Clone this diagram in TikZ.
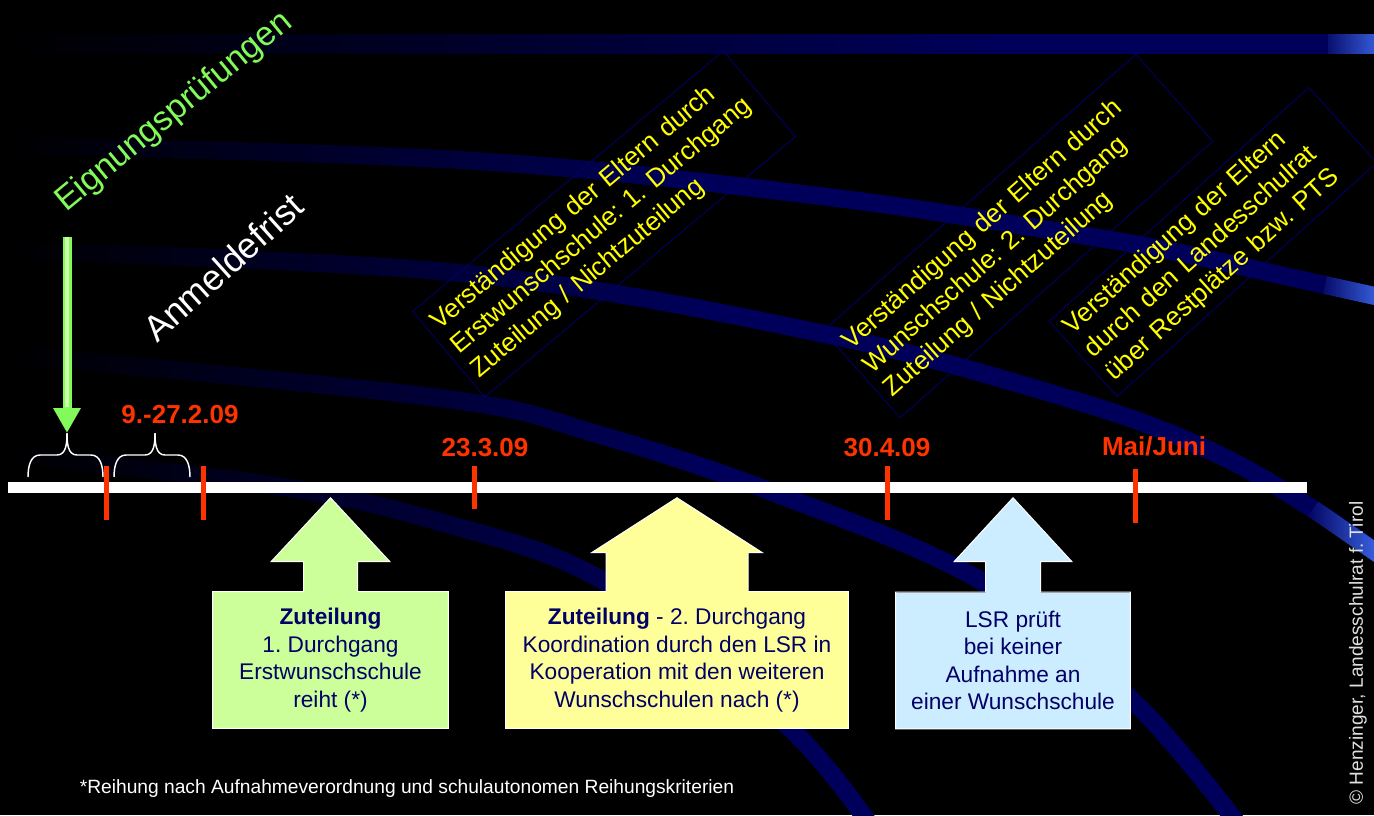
\documentclass[tikz,border=0pt]{standalone}
\usepackage{fontspec}
\setmainfont{Liberation Sans}
\usepackage{tikz}
\definecolor{bandnavy}{RGB}{0,0,90}
\definecolor{bandglow}{RGB}{70,120,255}
\definecolor{framenavy}{RGB}{0,0,100}
\definecolor{datered}{RGB}{255,51,0}
\definecolor{eigngreen}{RGB}{130,250,90}
\definecolor{eignlight}{RGB}{205,255,170}
\definecolor{hinweisgelb}{RGB}{255,255,0}
\definecolor{boxtext}{RGB}{0,0,102}
\definecolor{zutgreen}{RGB}{204,255,153}
\definecolor{zutyellow}{RGB}{255,255,153}
\definecolor{zutblue}{RGB}{204,236,255}
\usetikzlibrary{arrows.meta, calc, fadings}
\tikzfading[name=darkfade, left color=transparent!0, right color=transparent!100]
\tikzfading[name=glowfade, left color=transparent!100, right color=transparent!0]
\tikzstyle{band} = [bandnavy, line width=13.5pt]
\tikzstyle{glow} = [bandglow, line width=13.5pt, path fading=glowfade]
\tikzstyle{hinweis} = [rectangle, draw=framenavy, line width=0.7pt, text=hinweisgelb, align=left, font=\fontsize{19.5}{23.5}\selectfont, inner xsep=6pt]
\tikzstyle{schraeg} = [inner sep=0pt, anchor=base west]
\tikzstyle{datum} = [text=datered, anchor=base, font=\bfseries\fontsize{19.5}{23}\selectfont]
\tikzstyle{tick} = [datered, line width=3.75pt]
\tikzstyle{klammer} = [white, line width=1.1pt]
\tikzstyle{eignpfeil} = [eigngreen, line width=6.75pt, -{Triangle[width=19.5pt, length=18.75pt]}]
\tikzstyle{zuteilung} = [rectangle, text=boxtext, align=center, minimum height=102pt, font=\fontsize{17}{20.6}\selectfont]
\tikzstyle{umriss} = [white, line width=0.75pt]
\newcommand{\zutpfeil}[6]{%
  \fill[#2] ($(#1.north)+(-#3,1)$) -- ($(#1.north)+(-#3,-#5)$) -- ($(#1.north)+(-#4,-#5)$) -- ($(#1.north)+(0,-#6)$) -- ($(#1.north)+(#4,-#5)$) -- ($(#1.north)+(#3,-#5)$) -- ($(#1.north)+(#3,1)$) -- cycle;
  \draw[umriss] (#1.north west) -- ($(#1.north)+(-#3,0)$) -- ($(#1.north)+(-#3,-#5)$) -- ($(#1.north)+(-#4,-#5)$) -- ($(#1.north)+(0,-#6)$) -- ($(#1.north)+(#4,-#5)$) -- ($(#1.north)+(#3,-#5)$) -- ($(#1.north)+(#3,0)$) -- (#1.north east) -- (#1.south east) -- (#1.south west) -- cycle;
}

\begin{document}
\frenchspacing
\hyphenpenalty=10000
\begin{tikzpicture}[x=0.75pt, y=-0.75pt]
        \useasboundingbox (0,0) rectangle (1374,815);
        \fill[black] (0,0) rectangle (1374,815);

        \draw [band, line width=15pt] (-10,44) -- (1384,44);
        \draw [band] plot[smooth, tension=0.6] coordinates {(-10,145) (460,160) (820,196) (1080,235) (1180,253) (1280,275) (1325,285) (1384,298)};
        \draw [band] plot[smooth, tension=0.6] coordinates {(-10,250) (460,273) (820,333) (1080,402) (1213,452) (1313,509) (1384,558)};
        \draw [band] plot[smooth, tension=0.6] coordinates {(-10,353) (440,398) (600,435) (780,495) (983,582) (1137,705) (1250,840)};
        \draw [band] plot[smooth, tension=0.6] coordinates {(-10,452) (270,485) (440,522) (607,583) (790,728) (880,840)};
        \fill [black, path fading=darkfade] (-1,20) rectangle (1000,70);
        \fill [black, path fading=darkfade] (-1,70) rectangle (700,815);
        \draw [glow, line width=15pt] (1328,44) -- (1384,44);
        \draw [glow] (1325,285) -- (1384,298);
        \draw [glow] (1313,509) -- (1384,558);

        \node (hinweis1) [hinweis, rotate=40, text width=292pt, minimum height=84pt] at (604,224) {Verständigung der Eltern durch\\ Erstwunschschule: 1. Durchgang\\ Zuteilung / Nichtzuteilung};
        \node (hinweis2) [hinweis, rotate=41.5, text width=301pt, minimum height=87pt] at (1018,236) {Verständigung der Eltern durch\\ Wunschschule: 2. Durchgang\\ Zuteilung / Nichtzuteilung};
        \node (hinweis3) [hinweis, rotate=42, text width=250pt, minimum height=76pt] at (1213,242) {Verständigung der Eltern\\ durch den Landesschulrat\\ über Restplätze bzw. PTS};

        \node (eignung) [schraeg, rotate=39.5, text=eigngreen, font=\fontsize{25.5}{30}\selectfont] at (66,213) {Eignungsprüfungen};
        \node (anmeldung) [schraeg, rotate=42, text=white, font=\fontsize{27}{31}\selectfont] at (157,344) {Anmeldefrist};

        \node (achse) [fill=white, minimum width=974.25pt, minimum height=8.25pt, inner sep=0pt] at (657.5,487.5) {};
        \draw [tick] (106,466) -- (106,520);
        \draw [tick] (203,466) -- (203,520);
        \draw [tick] (474,466) -- (474,509);
        \draw [tick] (887,466) -- (887,520);
        \draw [tick] (1135,469) -- (1135,523);

        \node (datum1) [datum] at (180,423) {9.-27.2.09};
        \node (datum2) [datum] at (485,456) {23.3.09};
        \node (datum3) [datum] at (887,456) {30.4.09};
        \node (datum4) [datum] at (1154,455) {Mai/Juni};

        \coordinate (kl1links) at (28,477);
        \coordinate (kl1rechts) at (103,477);
        \coordinate (kl1spitze) at (67,433);
        \coordinate (kl2links) at (114,477);
        \coordinate (kl2rechts) at (190,477);
        \coordinate (kl2spitze) at (155,433);
        \draw [klammer] (kl1links) to[out=90, in=180] ++(12,-22) -- ($(kl1spitze)+(-10,22)$) to[out=0, in=-90] (kl1spitze);
        \draw [klammer] (kl1rechts) to[out=90, in=0] ++(-12,-22) -- ($(kl1spitze)+(10,22)$) to[out=180, in=-90] (kl1spitze);
        \draw [klammer] (kl2links) to[out=90, in=180] ++(12,-22) -- ($(kl2spitze)+(-10,22)$) to[out=0, in=-90] (kl2spitze);
        \draw [klammer] (kl2rechts) to[out=90, in=0] ++(-12,-22) -- ($(kl2spitze)+(10,22)$) to[out=180, in=-90] (kl2spitze);

        \coordinate (pfeilstart) at (67,237);
        \draw [eignpfeil] (pfeilstart) -- (kl1spitze);
        \draw [eignlight, line width=2.5pt] (pfeilstart) -- ($(kl1spitze)+(0,-26)$);

        \node (zut1) [zuteilung, fill=zutgreen, minimum width=176.25pt] at (330.5,660) {\textbf{Zuteilung}\\ 1. Durchgang\\ Erstwunschschule\\ reiht (*)};
        \node (zut2) [zuteilung, fill=zutyellow, minimum width=256.5pt] at (677,660) {\textbf{Zuteilung} - 2. Durchgang\\ Koordination durch den LSR in\\ Kooperation mit den weiteren\\ Wunschschulen nach (*)};
        \node (zut3) [zuteilung, fill=zutblue, minimum width=175.5pt] at (1013,660.5) {LSR prüft\\ bei keiner\\ Aufnahme an\\ einer Wunschschule};
        \zutpfeil{zut1}{zutgreen}{27}{59.5}{30}{94}
        \zutpfeil{zut2}{zutyellow}{71}{85.5}{39}{94}
        \zutpfeil{zut3}{zutblue}{27.5}{59}{30.5}{94.5}

        \node (fussnote) [text=white, anchor=base, font=\fontsize{14.4}{17}\selectfont] at (407,793) {*Reihung nach Aufnahmeverordnung und schulautonomen Reihungskriterien};
        \node (copyright) [rotate=90, text=white!88!black, font=\fontsize{14.3}{17}\selectfont] at (1358,653) {© Henzinger, Landesschulrat f. Tirol};
    \end{tikzpicture}
\end{document}
